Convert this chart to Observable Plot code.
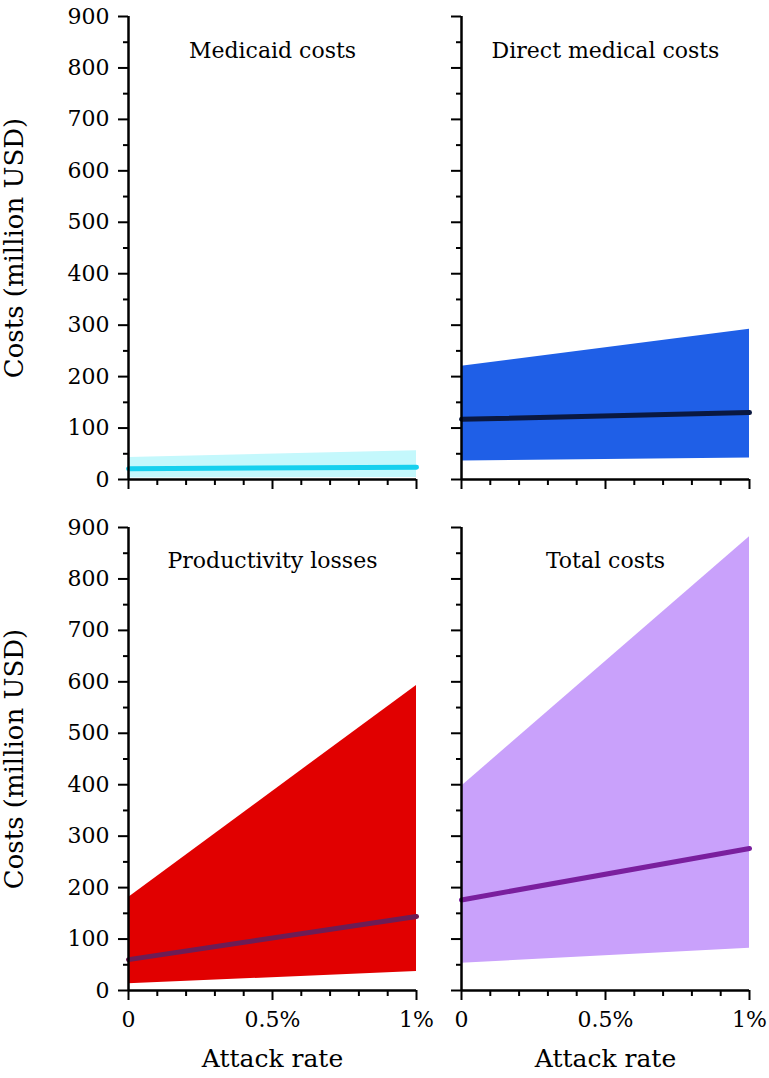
<!DOCTYPE html>
<html>
<head>
<meta charset="utf-8">
<script src="https://cdn.jsdelivr.net/npm/d3@7"></script>
<script src="https://cdn.jsdelivr.net/npm/@observablehq/plot@0.6"></script>
<style>
  html, body { margin: 0; padding: 0; background: white; }
  #chart { width: 769px; height: 1078px; }
  .row { display: flex; }
  .row svg { display: block; }
</style>
</head>
<body>
<div id="chart"></div>
<script>
// ---- data ----
const panelTitles = ["Medicaid costs", "Direct medical costs", "Productivity losses", "Total costs"];
const attackRate = [0, 0.01];

const medicaidMean = [21, 24];
const medicaidLow = [3, 4];
const medicaidHigh = [43, 56];

const directMean = [117, 130];
const directLow = [36, 42];
const directHigh = [220, 292];

const productivityMean = [60, 144];
const productivityLow = [13, 37];
const productivityHigh = [181, 593];

const totalMean = [176, 276];
const totalLow = [53, 82];
const totalHigh = [397, 882];

const yMajorTicks = [0, 100, 200, 300, 400, 500, 600, 700, 800, 900];
const yMinorTicks = [50, 150, 250, 350, 450, 550, 650, 750, 850];
const xMajorTicks = [0, 0.005, 0.01];
const xMinorTicks = [0.001, 0.002, 0.003, 0.004, 0.006, 0.007, 0.008, 0.009];
const xTickLabels = ["0", "0.5%", "1%"];
const yLabel = "Costs (million USD)";
const xLabel = "Attack rate";

// ---- styling ----
const font = "DejaVu Serif";
const panels = [
  {title: panelTitles[0], mean: medicaidMean, low: medicaidLow, high: medicaidHigh, band: "#c4f8fc", line: "#17d0ee"},
  {title: panelTitles[1], mean: directMean, low: directLow, high: directHigh, band: "#1f5fe7", line: "#0a1840"},
  {title: panelTitles[2], mean: productivityMean, low: productivityLow, high: productivityHigh, band: "#e10000", line: "#6c1d55"},
  {title: panelTitles[3], mean: totalMean, low: totalLow, high: totalHigh, band: "#c9a1fb", line: "#7a1f9e"}
];

function xFmt(d) {
  const i = xMajorTicks.indexOf(d);
  return xTickLabels[i];
}

function panel(p, left, bottomRow) {
  const rows = attackRate.map((x, i) => ({x, lo: p.low[i], hi: p.high[i], mid: p.mean[i]}));
  const width = left ? 440 : 329;
  const marginLeft = left ? 128 : 21;
  const marginRight = left ? 24 : 20;
  const marginTop = bottomRow ? 22 : 16;
  const marginBottom = bottomRow ? 88 : 26;
  const height = marginTop + 463 + marginBottom;
  const marks = [
    Plot.areaY(rows, {x: "x", y1: "lo", y2: "hi", fill: p.band}),
    Plot.lineY(rows, {x: "x", y: "mid", stroke: p.line, strokeWidth: 5}),
    Plot.axisY({ticks: yMajorTicks, tickSize: 10, tickPadding: 9, strokeWidth: 2,
      tickFormat: left ? (d => String(d)) : (() => ""), label: null, fontSize: 22}),
    Plot.axisY({ticks: yMinorTicks, tickSize: 5, strokeWidth: 2, tickFormat: () => "", label: null}),
    Plot.axisX({ticks: xMajorTicks, tickSize: 10, tickPadding: 11, strokeWidth: 2,
      tickFormat: bottomRow ? xFmt : (() => ""), label: null, fontSize: 22}),
    Plot.axisX({ticks: xMinorTicks, tickSize: 6, strokeWidth: 2, tickFormat: () => "", label: null}),
    Plot.ruleX([0], {strokeWidth: 2.5}),
    Plot.ruleY([0], {strokeWidth: 2.5}),
    Plot.text([p.title], {frameAnchor: "top", dy: bottomRow ? 25 : 26, fontSize: 22, fill: "black"})
  ];
  if (left) {
    marks.push(Plot.text([yLabel], {frameAnchor: "left", textAnchor: "middle", rotate: -90, dx: -114, fontSize: 26, fill: "black"}));
  }
  if (bottomRow) {
    marks.push(Plot.text([xLabel], {frameAnchor: "bottom", dy: 76, fontSize: 25, fill: "black"}));
  }
  return Plot.plot({
    width, height, marginLeft, marginRight, marginTop, marginBottom,
    style: {fontFamily: font, fontSize: "22px", background: "transparent", overflow: "visible", color: "black"},
    x: {domain: [0, 0.01], label: null},
    y: {domain: [0, 900], label: null},
    marks
  });
}

const chart = document.getElementById("chart");
const row1 = document.createElement("div"); row1.className = "row";
const row2 = document.createElement("div"); row2.className = "row";
row1.append(panel(panels[0], true, false), panel(panels[1], false, false));
row2.append(panel(panels[2], true, true), panel(panels[3], false, true));
chart.append(row1, row2);
</script>
</body>
</html>
